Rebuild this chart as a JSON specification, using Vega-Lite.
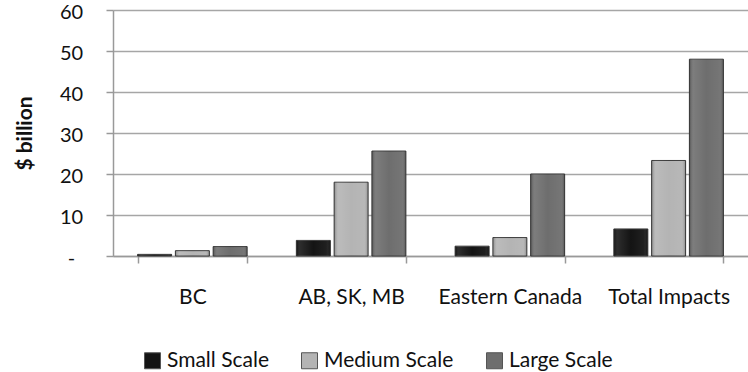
{
  "$schema": "https://vega.github.io/schema/vega-lite/v6.json",
  "width": 635,
  "height": 246,
  "autosize": {"type": "none"},
  "padding": {"left": 113, "top": 10, "right": 0, "bottom": 116},
  "background": "white",
  "data": {
    "values": [
      {"region": "BC", "scale": "Small Scale", "value": 0.4},
      {"region": "BC", "scale": "Medium Scale", "value": 1.3},
      {"region": "BC", "scale": "Large Scale", "value": 2.3},
      {"region": "AB, SK, MB", "scale": "Small Scale", "value": 3.8},
      {"region": "AB, SK, MB", "scale": "Medium Scale", "value": 18.0},
      {"region": "AB, SK, MB", "scale": "Large Scale", "value": 25.6},
      {"region": "Eastern Canada", "scale": "Small Scale", "value": 2.4},
      {"region": "Eastern Canada", "scale": "Medium Scale", "value": 4.5},
      {"region": "Eastern Canada", "scale": "Large Scale", "value": 20.0},
      {"region": "Total Impacts", "scale": "Small Scale", "value": 6.6},
      {"region": "Total Impacts", "scale": "Medium Scale", "value": 23.3},
      {"region": "Total Impacts", "scale": "Large Scale", "value": 48.0}
    ]
  },
  "encoding": {
    "x": {
      "field": "region",
      "type": "nominal",
      "sort": ["BC", "AB, SK, MB", "Eastern Canada", "Total Impacts"],
      "scale": {"paddingInner": 0.31, "paddingOuter": 0.155},
      "axis": {
        "title": null,
        "labelAngle": 0,
        "labelPadding": 23,
        "tickBand": "extent",
        "tickSize": 7,
        "tickColor": "#999999",
        "tickWidth": 1.5,
        "domainColor": "#999999",
        "domainWidth": 1.5,
        "labelFontSize": 21,
        "labelColor": "#111111"
      }
    },
    "xOffset": {
      "field": "scale",
      "sort": ["Small Scale", "Medium Scale", "Large Scale"],
      "scale": {"paddingInner": 0.1}
    },
    "y": {
      "field": "value",
      "type": "quantitative",
      "scale": {"domain": [0, 60], "nice": false},
      "axis": {
        "title": "$ billion",
        "titleFontWeight": "bold",
        "titleFontSize": 21,
        "titleColor": "#111111",
        "titlePadding": 24,
        "values": [0, 10, 20, 30, 40, 50, 60],
        "labelExpr": "datum.value == 0 ? '-' : datum.label",
        "labelFontSize": 20,
        "labelColor": "#111111",
        "labelAlign": "center",
        "labelPadding": 35,
        "labelOffset": 2,
        "tickSize": 7,
        "tickColor": "#999999",
        "tickWidth": 1.5,
        "domainColor": "#999999",
        "domainWidth": 1.5,
        "grid": true,
        "gridColor": "#a6a6a6",
        "gridWidth": 1.5
      }
    }
  },
  "layer": [
    {
      "mark": {"type": "bar", "stroke": "#3a3a3a", "strokeWidth": 1},
      "encoding": {
        "color": {
          "field": "scale",
          "type": "nominal",
          "sort": ["Small Scale", "Medium Scale", "Large Scale"],
          "scale": {
            "domain": ["Small Scale", "Medium Scale", "Large Scale"],
            "range": ["#141414", "#b4b4b4", "#6e6e6e"]
          },
          "legend": {
            "title": null,
            "orient": "none",
            "direction": "horizontal",
            "legendX": 29,
            "legendY": 340,
            "symbolType": "square",
            "symbolSize": 256,
            "symbolStrokeColor": "#555555",
            "symbolStrokeWidth": 1,
            "labelFontSize": 21,
            "labelColor": "#111111",
            "labelOffset": 4,
            "columnPadding": 30
          }
        }
      }
    },
    {
      "mark": {
        "type": "bar",
        "color": {
          "gradient": "linear",
          "x1": 0, "y1": 0, "x2": 1, "y2": 0,
          "stops": [
            {"offset": 0, "color": "rgba(0,0,0,0.25)"},
            {"offset": 0.12, "color": "rgba(255,255,255,0.10)"},
            {"offset": 0.5, "color": "rgba(255,255,255,0.0)"},
            {"offset": 0.88, "color": "rgba(255,255,255,0.05)"},
            {"offset": 1, "color": "rgba(0,0,0,0.25)"}
          ]
        }
      }
    }
  ],
  "config": {
    "font": "Lato",
    "view": {"stroke": null}
  }
}
